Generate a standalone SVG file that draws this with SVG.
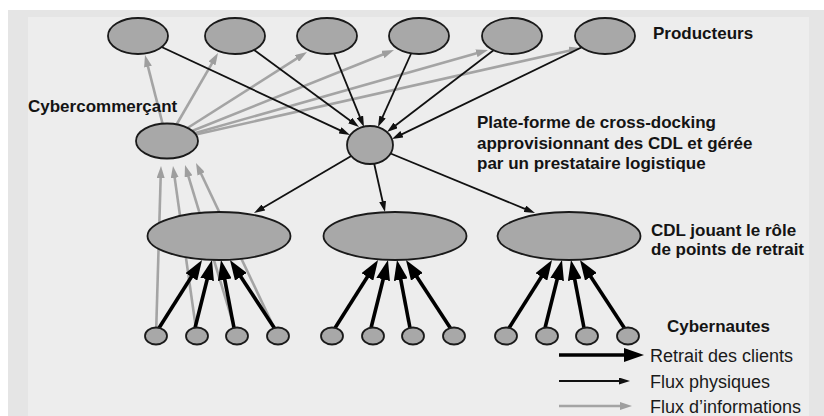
<svg xmlns="http://www.w3.org/2000/svg" width="824" height="416" viewBox="0 0 824 416">
<defs>
<style>
.node{fill:#a8a8a8;stroke:#1a1a1a;stroke-width:1.8}
.lbl{font-family:"Liberation Sans",Arial,sans-serif;font-weight:bold;font-size:17px;fill:#141414}
.leg{font-family:"Liberation Sans",Arial,sans-serif;font-size:18px;fill:#1a1a1a}
.thick{stroke:#000;stroke-width:3.6;fill:none;marker-end:url(#mThick)}
.phys{stroke:#111;stroke-width:1.8;fill:none;marker-end:url(#mBlack)}
.info{stroke:#a4a4a4;stroke-width:2.6;fill:none;marker-end:url(#mGray)}
</style>
<marker id="mThick" markerUnits="userSpaceOnUse" markerWidth="20" markerHeight="14" refX="4" refY="7" orient="auto"><path d="M0,0 L20,7 L0,14 Z" fill="#000"/></marker>
<marker id="mBlack" markerUnits="userSpaceOnUse" markerWidth="11" markerHeight="7" refX="2" refY="3.5" orient="auto"><path d="M0,0 L11,3.5 L0,7 Z" fill="#111"/></marker>
<marker id="mGray" markerUnits="userSpaceOnUse" markerWidth="12" markerHeight="8" refX="2" refY="4" orient="auto"><path d="M0,0 L12,4 L0,8 Z" fill="#9e9e9e"/></marker>
</defs>
<rect x="0" y="0" width="824" height="416" fill="#ffffff"/>
<rect x="8" y="10" width="816" height="406" fill="#e5e5e5"/>
<rect x="28" y="17" width="781" height="399" fill="#ededed"/>

<g id="connectors">
<!-- information flows (gray) -->
<line class="info" x1="167" y1="141" x2="147.48" y2="64.69"/>
<line class="info" x1="167" y1="141" x2="212.99" y2="61.65"/>
<line class="info" x1="167" y1="141" x2="298.56" y2="57.36"/>
<line class="info" x1="167" y1="141" x2="384.72" y2="53.72"/>
<line class="info" x1="167" y1="141" x2="478.38" y2="52.73"/>
<line class="info" x1="167" y1="141" x2="571.24" y2="50.19"/>
<line class="info" x1="156" y1="336" x2="160.71" y2="176"/>
<line class="info" x1="197" y1="336" x2="174.4" y2="175.9"/>
<line class="info" x1="237" y1="336" x2="187.91" y2="174.57"/>
<line class="info" x1="278" y1="336" x2="200.28" y2="172.04"/>
<!-- physical flows -->
<line class="phys" x1="138" y1="36" x2="341.85" y2="131.19"/>
<line class="phys" x1="235" y1="36" x2="351.74" y2="121.68"/>
<line class="phys" x1="327" y1="36" x2="360.61" y2="118.66"/>
<line class="phys" x1="419" y1="36" x2="381.7" y2="118.79"/>
<line class="phys" x1="512" y1="36" x2="394.14" y2="126.52"/>
<line class="phys" x1="605" y1="36" x2="400.1" y2="135.08"/>
<line class="phys" x1="370" y1="145" x2="261.76" y2="208.45"/>
<line class="phys" x1="370" y1="145" x2="383.03" y2="203.22"/>
<line class="phys" x1="370" y1="145" x2="526.68" y2="209.57"/>
<!-- customer pickups (thick) -->
<line class="thick" x1="159" y1="328" x2="193.5" y2="273.5"/>
<line class="thick" x1="195" y1="328" x2="208.1" y2="275.5"/>
<line class="thick" x1="234" y1="328" x2="224" y2="275.7"/>
<line class="thick" x1="275" y1="329" x2="238.7" y2="273.4"/>
<line class="thick" x1="335" y1="328" x2="369.5" y2="273.5"/>
<line class="thick" x1="371" y1="328" x2="384.1" y2="275.5"/>
<line class="thick" x1="410" y1="328" x2="400" y2="275.7"/>
<line class="thick" x1="451" y1="329" x2="414.7" y2="273.4"/>
<line class="thick" x1="509" y1="328" x2="543.5" y2="273.5"/>
<line class="thick" x1="545" y1="328" x2="558.1" y2="275.5"/>
<line class="thick" x1="584" y1="328" x2="574" y2="275.7"/>
<line class="thick" x1="625" y1="329" x2="588.7" y2="273.4"/>
</g>

<g id="producteurs">
<ellipse class="node" cx="138" cy="36" rx="30" ry="18"/>
<ellipse class="node" cx="235" cy="36" rx="30" ry="18"/>
<ellipse class="node" cx="327" cy="36" rx="30" ry="18"/>
<ellipse class="node" cx="419" cy="36" rx="30" ry="18"/>
<ellipse class="node" cx="512" cy="36" rx="30" ry="18"/>
<ellipse class="node" cx="605" cy="36" rx="30" ry="18"/>
<text class="lbl" x="653" y="39">Producteurs</text>
</g>

<g id="cybercommercant">
<ellipse class="node" cx="167" cy="141" rx="31" ry="17.5"/>
<text class="lbl" x="28" y="112">Cybercommerçant</text>
</g>

<g id="plateforme">
<ellipse class="node" cx="370" cy="145" rx="23" ry="19"/>
<text class="lbl" x="477" y="128">Plate-forme de cross-docking</text>
<text class="lbl" x="477" y="148.5">approvisionnant des CDL et gérée</text>
<text class="lbl" x="477" y="169">par un prestataire logistique</text>
</g>

<g id="cdl">
<ellipse class="node" cx="219" cy="236" rx="71.5" ry="24"/>
<ellipse class="node" cx="395" cy="236" rx="71.5" ry="24"/>
<ellipse class="node" cx="569" cy="236" rx="71.5" ry="24"/>
<text class="lbl" x="651" y="236">CDL jouant le rôle</text>
<text class="lbl" x="651" y="255">de points de retrait</text>
</g>

<g id="cybernautes">
<ellipse class="node" cx="156" cy="336" rx="11" ry="8.5"/>
<ellipse class="node" cx="197" cy="336" rx="11" ry="8.5"/>
<ellipse class="node" cx="237" cy="336" rx="11" ry="8.5"/>
<ellipse class="node" cx="278" cy="336" rx="11" ry="8.5"/>
<ellipse class="node" cx="332" cy="336" rx="11" ry="8.5"/>
<ellipse class="node" cx="373" cy="336" rx="11" ry="8.5"/>
<ellipse class="node" cx="413" cy="336" rx="11" ry="8.5"/>
<ellipse class="node" cx="454" cy="336" rx="11" ry="8.5"/>
<ellipse class="node" cx="506" cy="336" rx="11" ry="8.5"/>
<ellipse class="node" cx="547" cy="336" rx="11" ry="8.5"/>
<ellipse class="node" cx="587" cy="336" rx="11" ry="8.5"/>
<ellipse class="node" cx="628" cy="336" rx="11" ry="8.5"/>
<text class="lbl" x="667" y="332">Cybernautes</text>
</g>

<g id="legend">
<line class="thick" x1="559" y1="355" x2="628" y2="355"/>
<line class="phys" x1="559" y1="381" x2="621" y2="381"/>
<line class="info" x1="559" y1="406" x2="622" y2="406"/>
<text class="leg" x="650" y="362">Retrait des clients</text>
<text class="leg" x="650" y="388">Flux physiques</text>
<text class="leg" x="650" y="413">Flux d’informations</text>
</g>
</svg>
